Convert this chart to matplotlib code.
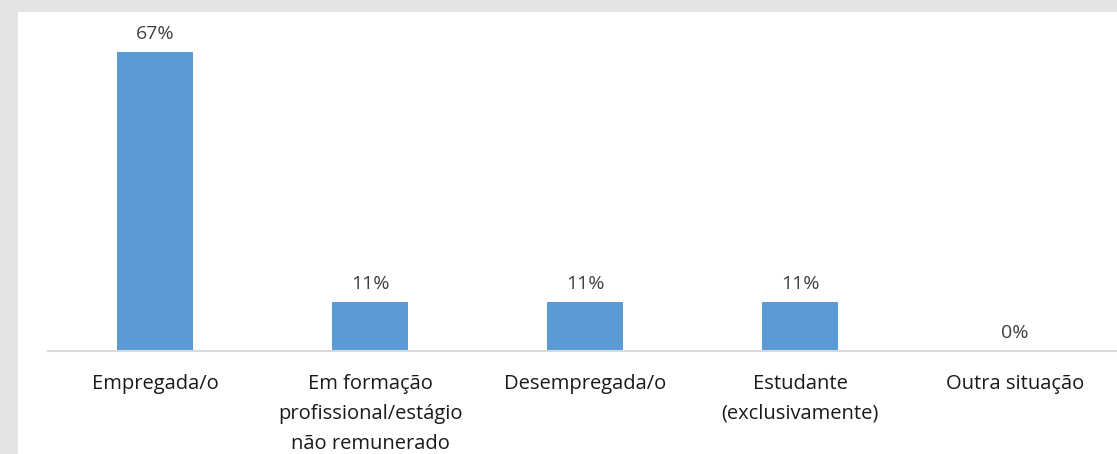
import matplotlib.pyplot as plt

categories = ["Empregada/o", "Em formação\nprofissional/estágio\nnão remunerado",
              "Desempregada/o", "Estudante\n(exclusivamente)", "Outra situação"]
values = [67, 11, 11, 11, 0]
value_labels = ["67%", "11%", "11%", "11%", "0%"]

plt.rcParams['font.family'] = ['Open Sans', 'DejaVu Sans']

fig = plt.figure(figsize=(11.17, 4.54), dpi=100)
fig.patch.set_facecolor('#e4e4e4')
# white chart area inside the gray frame
fig.add_artist(plt.Rectangle((18 / 1117, 0), 1, 1 - 12 / 454,
                             transform=fig.transFigure, facecolor='white', zorder=0))

ax = fig.add_axes([47.5 / 1117, (454 - 351) / 454, 1075 / 1117, 299 / 454])
ax.set_facecolor('none')
x = range(len(categories))
ax.bar(x, values, width=0.355, color='#5b9bd5', zorder=2)
ax.set_xlim(-0.5, len(categories) - 0.5)
ax.set_ylim(0, 67)

for xi, v, lab in zip(x, values, value_labels):
    ax.annotate(lab, (xi, v), xytext=(0, 13), textcoords='offset points',
                ha='center', va='center', fontsize=14, color='#404040')

for s in ['top', 'right', 'left']:
    ax.spines[s].set_visible(False)
ax.spines['bottom'].set_color('#d9d9d9')
ax.spines['bottom'].set_linewidth(1.5)
ax.set_yticks([])
ax.set_xticks(list(x))
ax.set_xticklabels(categories, fontsize=14.5, color='#1a1a1a', linespacing=1.66, va='top')
ax.tick_params(axis='x', length=0, pad=16.5)

fig.savefig('out.png', dpi=100, facecolor=fig.get_facecolor())
